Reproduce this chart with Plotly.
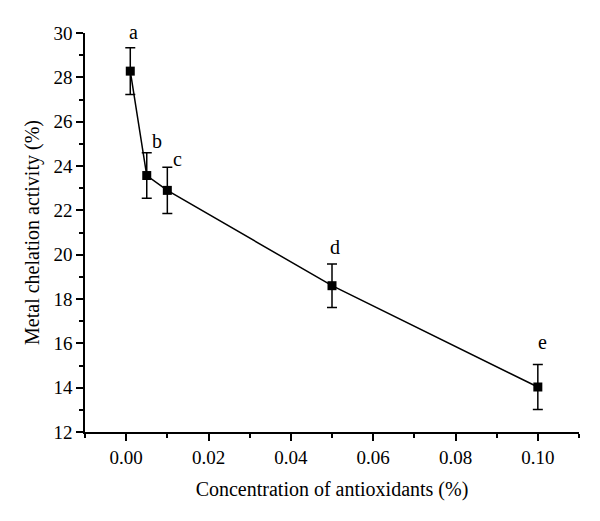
import plotly.graph_objects as go

# Data
concentration = [0.001, 0.005, 0.01, 0.05, 0.10]
chelation = [28.28, 23.57, 22.90, 18.60, 14.03]
error = [1.05, 1.03, 1.04, 0.98, 1.02]
letters = ["a", "b", "c", "d", "e"]

# label placement offsets (pixels) relative to top of error bar
label_shift = [(3, 16), (10, 12), (10, 8), (3, 17), (5, 22)]

FONT = "Liberation Serif"

fig = go.Figure()
fig.add_trace(go.Scatter(
    x=concentration, y=chelation,
    mode="lines+markers",
    line=dict(color="black", width=1.5),
    marker=dict(symbol="square", size=9, color="black"),
    error_y=dict(type="data", array=error, visible=True, color="black",
                 thickness=1.5, width=5),
    showlegend=False,
))

for xv, yv, ev, lab, (dx, dy) in zip(concentration, chelation, error, letters, label_shift):
    fig.add_annotation(x=xv, y=yv + ev, text=lab, showarrow=False,
                       xref="x", yref="y", xshift=dx, yshift=dy,
                       font=dict(family=FONT, size=20, color="black"))

# page body has an 8px default margin, so the figure is sized to fit the window
fig.update_layout(
    width=592, height=513,
    paper_bgcolor="white", plot_bgcolor="white",
    margin=dict(l=77, r=21, t=25, b=89, autoexpand=False),
    font=dict(family=FONT, size=19, color="black"),
)
fig.update_xaxes(
    range=[-0.01, 0.11], tickvals=[0, 0.02, 0.04, 0.06, 0.08, 0.10],
    ticktext=["0.00", "0.02", "0.04", "0.06", "0.08", "0.10"],
    showline=True, linecolor="black", linewidth=1.5,
    ticks="outside", ticklen=7, tickwidth=1.5, tickcolor="black",
    minor=dict(dtick=0.01, tick0=0.0, ticks="outside", ticklen=4, tickwidth=1.5, tickcolor="black"),
    showgrid=False, zeroline=False, automargin=False,
    title=dict(text="Concentration of antioxidants (%)", font=dict(family=FONT, size=20), standoff=15),
    tickfont=dict(family=FONT, size=19),
)
fig.update_yaxes(
    range=[12, 30], dtick=2, tick0=12,
    showline=True, linecolor="black", linewidth=1.5,
    ticks="outside", ticklen=7, tickwidth=1.5, tickcolor="black",
    minor=dict(dtick=1, ticks="outside", ticklen=4, tickwidth=1.5, tickcolor="black"),
    showgrid=False, zeroline=False, automargin=False,
    title=dict(text="Metal chelation activity (%)", font=dict(family=FONT, size=20), standoff=8),
    tickfont=dict(family=FONT, size=19),
)

fig.write_html("out.html")
